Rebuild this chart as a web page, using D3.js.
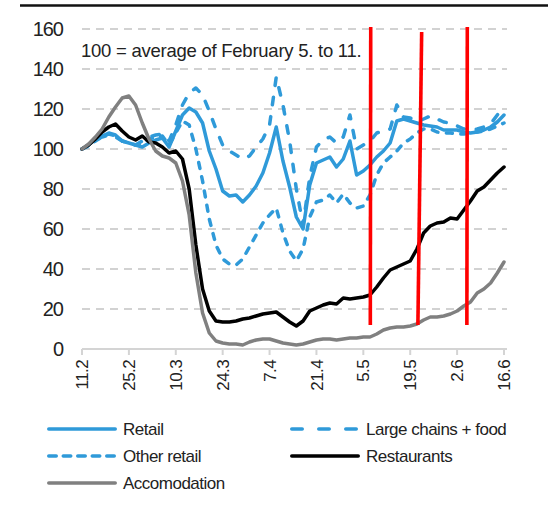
<!DOCTYPE html>
<html>
<head>
<meta charset="utf-8">
<script src="https://cdn.jsdelivr.net/npm/d3@7"></script>
<style>
  body { margin: 0; background: #fff; }
  text { font-family: "Liberation Sans", Arial, sans-serif; fill: #222; }
</style>
</head>
<body>
<div id="chart"></div>
<script>
// every second day, 11.2. - 16.6.2020
var dates = d3.timeDay.range(new Date(2020, 1, 11), new Date(2020, 5, 17), 2);

var retail = [100,102,105,106.5,108,107,104,103,102,101, 103,104.5,105.5,101,109,117,120.5,118.5,113,99,
  90,79,76.5,77,73.5,77,81.5,88,98,111, 94,81,66,60,82,93,94.5,96,91,95,
  104,87,89,92,96,99,103,114,115,114, 113,112,111.5,111,109.5,109.5,109.5,108.5,108,108.5,
  109.5,111,113.5,117];
var largeChains = [100,102,104.5,106,107,106,104,103,102,104, 106,107,107.5,104,112,122,128,130.5,127,119,
  110,102,99,97,95,96.5,101,105,112,136, 122,104,80,62,86,101,104.5,106,103,106,
  117,100,102,104,108,109,110,122,116,115.5, 113.5,115,116.5,115,113.5,113,111.5,110,109.5,110,
  111,112.5,117,121];
var otherRetail = [100,101.5,104,106,107.5,106.5,104,103,102,103, 105,106,106.5,102,108,114,112,100,84,65,
  52,45,42.5,42,45,51,57,63,67,70.5, 58,49,44,50,66,73.5,74.5,77,73,77.5,
  73,70.5,71.5,77,87,93,96,99,103,105, 108,110,110,108.5,108,108,107.5,107.5,108,108.5,
  109,110,111.5,113];
var restaurants = [100,102,105,108.5,111,112.5,109,106,104.5,106.5, 103.5,103,101,98,99,95,80,52,30,19,
  14,13.5,13.5,14,15,15.5,16.5,17.5,18,18.5, 16,13.5,11.5,14,19,20.5,22,23,22.5,25.5,
  25,25.5,26,27,31,35.5,39.5,41,42.5,44, 50,58,61.5,63,63.5,65.5,65,69.5,74,79,
  81,84.5,88,91];
var accomodation = [100,102.5,106,110,116,121,125.5,126.5,122,113, 105,99,96.5,95.5,93,84,67,38,18,8,
  4,3,2.5,2.5,2,3.5,4.5,5,5,4, 3,2.5,2,2.5,3.5,4.5,5,5,4.5,5,
  5.5,5.5,6,6,7.5,9.5,10.5,11,11,11.5, 12.5,14.5,16,16,16.5,17.5,19,21.5,23.5,28,
  30,33,38,43.5];

var seriesNames = ["Retail", "Large chains + food", "Other retail", "Restaurants", "Accomodation"];
var tickDates = [new Date(2020,1,11), new Date(2020,1,25), new Date(2020,2,10), new Date(2020,2,24),
  new Date(2020,3,7), new Date(2020,3,21), new Date(2020,4,5), new Date(2020,4,19),
  new Date(2020,5,2), new Date(2020,5,16)];
var tickLabels = ["11.2","25.2","10.3","24.3","7.4","21.4","5.5","19.5","2.6","16.6"];
var yTicks = [0,20,40,60,80,100,120,140,160];

// red marker lines (hand drawn on the original), top / bottom in data units
var markerTop = [new Date(2020,4,7,5), new Date(2020,4,22,10), new Date(2020,5,5,1)];
var markerBottom = [new Date(2020,4,7,2), new Date(2020,4,21,7), new Date(2020,5,4,22)];
var markerTopValue = [161, 158.5, 161];
var markerBottomValue = [12, 12, 12];

var note = "100 = average of February 5. to 11.";

var W = 548, H = 507;
var svg = d3.select("#chart").append("svg").attr("width", W).attr("height", H);

var x = d3.scaleTime().domain([dates[0], dates[dates.length - 1]]).range([82, 504]);
var y = d3.scaleLinear().domain([0, 160]).range([349, 29]);

// top rule
svg.append("line").attr("x1", 20).attr("x2", W).attr("y1", 5.5).attr("y2", 5.5)
  .attr("stroke", "#111").attr("stroke-width", 2.5);

// gridlines
svg.selectAll(".grid").data(yTicks.slice(1)).enter().append("line")
  .attr("class", "grid")
  .attr("x1", 82).attr("x2", 507)
  .attr("y1", function(d){ return y(d); }).attr("y2", function(d){ return y(d); })
  .attr("stroke", "#c4c4c4").attr("stroke-width", 1.6).attr("stroke-dasharray", "8,6");

// y labels
svg.selectAll(".ylab").data(yTicks).enter().append("text")
  .attr("x", 63).attr("y", function(d){ return y(d); }).attr("dy", "0.36em")
  .attr("text-anchor", "end").style("font-size", "20px").style("letter-spacing", "-1px")
  .text(function(d){ return d; });

// x axis
var xAxis = svg.append("g").attr("transform", "translate(0," + y(0) + ")");
xAxis.append("line").attr("x1", 82).attr("x2", 507).attr("stroke", "#d4d4d4").attr("stroke-width", 2);
xAxis.selectAll(".tick").data(tickDates).enter().append("line")
  .attr("x1", function(d){ return x(d); }).attr("x2", function(d){ return x(d); })
  .attr("y1", 0).attr("y2", 6).attr("stroke", "#d4d4d4").attr("stroke-width", 2);
xAxis.selectAll(".xlab").data(tickDates).enter().append("text")
  .attr("transform", function(d){ return "translate(" + x(d) + ",11) rotate(-90)"; })
  .attr("dy", "0.36em").attr("text-anchor", "end")
  .style("font-size", "17px").style("letter-spacing", "-0.6px")
  .text(function(d, i){ return tickLabels[i]; });

// note
svg.append("text").attr("x", 81).attr("y", 57).style("font-size", "18.5px")
  .style("letter-spacing", "-0.25px").text(note);

var blue = "#2f9ad9";
var styles = [
  { color: blue, dash: null },
  { color: blue, dash: "7.5,12" },
  { color: blue, dash: "6,8.5" },
  { color: "#000", dash: null },
  { color: "#808080", dash: null }
];
var allSeries = [retail, largeChains, otherRetail, restaurants, accomodation];

var line = d3.line()
  .x(function(d, i){ return x(dates[i]); })
  .y(function(d){ return y(d); });

allSeries.forEach(function(s, k){
  svg.append("path").datum(s)
    .attr("d", line)
    .attr("fill", "none")
    .attr("stroke", styles[k].color)
    .attr("stroke-width", 3.5)
    .attr("stroke-linejoin", "round")
    .attr("stroke-linecap", "round")
    .attr("stroke-dasharray", styles[k].dash);
});

// red markers
svg.selectAll(".marker").data(markerTop).enter().append("line")
  .attr("x1", function(d){ return x(d); })
  .attr("y1", function(d, i){ return y(markerTopValue[i]); })
  .attr("x2", function(d, i){ return x(markerBottom[i]); })
  .attr("y2", function(d, i){ return y(markerBottomValue[i]); })
  .attr("stroke", "#ff0000").attr("stroke-width", 3.6);

// legend
var legendPos = [[47, 429], [290, 429], [47, 456], [290, 456], [47, 483]];
seriesNames.forEach(function(name, k){
  var p = legendPos[k];
  svg.append("line").attr("x1", p[0] + 1.75).attr("x2", p[0] + 68.25).attr("y1", p[1]).attr("y2", p[1])
    .attr("stroke", styles[k].color).attr("stroke-width", 3.5)
    .attr("stroke-linecap", "round")
    .attr("stroke-dasharray", k == 1 ? "10.5,16.5" : k == 2 ? "7.5,7" : styles[k].dash);
  svg.append("text").attr("x", p[0] + 76).attr("y", p[1]).attr("dy", "0.36em")
    .style("font-size", "17px").style("letter-spacing", "-0.5px").text(name);
});
</script>
</body>
</html>
